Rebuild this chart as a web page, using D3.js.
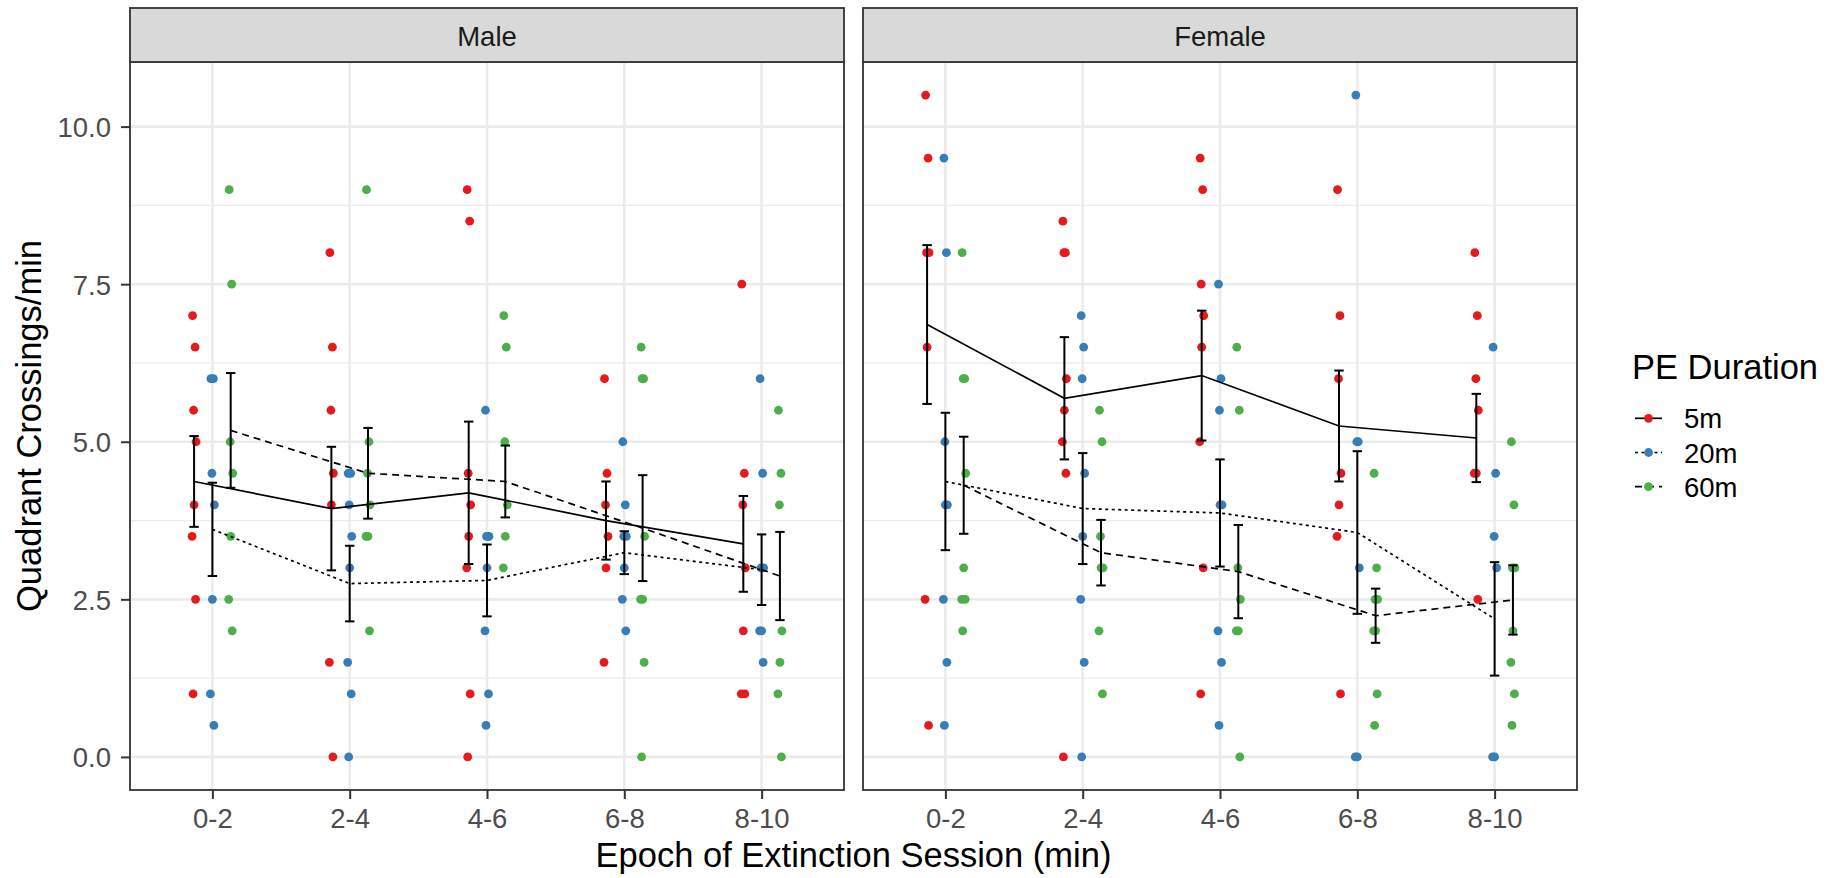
<!DOCTYPE html>
<html>
<head>
<meta charset="utf-8">
<script src="https://cdn.jsdelivr.net/npm/d3@7"></script>
<style>
  body { margin: 0; background: #fff; }
  text { font-family: 'Liberation Sans', Arial, Helvetica, sans-serif; }
</style>
</head>
<body>
<svg id="chart" width="1843" height="878"></svg>
<script>
var epochs = ['0-2', '2-4', '4-6', '6-8', '8-10'];
var sexes = ['Male', 'Female'];
var durations = ['5m', '20m', '60m'];
var yTicks = [0, 2.5, 5, 7.5, 10];
var yMinorTicks = [1.25, 3.75, 6.25, 8.75];

// individual animals, one list per epoch
var male5m = [
  [7, 6.5, 5.5, 5, 4, 3.5, 2.5, 1],
  [8, 6.5, 5.5, 4.5, 4, 1.5, 0],
  [9, 8.5, 4.5, 4, 3.5, 3, 1, 0],
  [6, 4.5, 4, 3.5, 3, 1.5],
  [7.5, 4.5, 4, 3, 2, 1, 1]
];
var male20m = [
  [6, 6, 4.5, 4, 2.5, 1, 0.5],
  [4.5, 4.5, 4, 3.5, 3, 1.5, 1, 0],
  [5.5, 3.5, 3.5, 3.5, 3, 2, 1, 0.5],
  [5, 4, 3.5, 3.5, 3, 2.5, 2],
  [6, 4.5, 3, 3, 2, 2, 1.5]
];
var male60m = [
  [9, 7.5, 5, 4.5, 3.5, 2.5, 2],
  [9, 5, 4.5, 4, 3.5, 3.5, 2],
  [7, 6.5, 5, 4, 3.5, 3],
  [6.5, 6, 6, 3.5, 2.5, 2.5, 1.5, 0],
  [5.5, 4.5, 4, 2, 1.5, 1, 0]
];
var female5m = [
  [10.5, 9.5, 8, 8, 6.5, 2.5, 0.5],
  [8.5, 8, 8, 6, 5.5, 5, 4.5, 0],
  [9.5, 9, 7.5, 7, 6.5, 5, 3, 1],
  [9, 7, 6, 4.5, 4, 3.5, 1],
  [8, 7, 6, 5.5, 4.5, 4.5, 2.5]
];
var female20m = [
  [9.5, 8, 5, 4, 4, 2.5, 1.5, 0.5],
  [7, 6.5, 6, 4.5, 3.5, 2.5, 1.5, 0],
  [7.5, 6, 5.5, 4, 4, 2, 1.5, 0.5],
  [10.5, 5, 5, 3, 0, 0],
  [6.5, 4.5, 3.5, 3, 0, 0]
];
var female60m = [
  [8, 6, 6, 4.5, 3, 2.5, 2.5, 2],
  [5.5, 5, 3.5, 3, 3, 2, 1],
  [6.5, 5.5, 3, 2.5, 2, 2, 0],
  [4.5, 3, 2.5, 2.5, 2, 2, 1, 0.5],
  [5, 4, 3, 3, 2, 1.5, 1, 0.5]
];

// group means and standard errors, per epoch
var maleMean5m = [4.37, 3.94, 4.19, 3.75, 3.38];
var maleSe5m = [0.72, 0.98, 1.13, 0.62, 0.76];
var maleMean20m = [3.61, 2.75, 2.80, 3.24, 2.97];
var maleSe20m = [0.74, 0.60, 0.57, 0.34, 0.56];
var maleMean60m = [5.18, 4.50, 4.37, 3.63, 2.87];
var maleSe60m = [0.91, 0.72, 0.57, 0.84, 0.70];
var femaleMean5m = [6.86, 5.69, 6.05, 5.25, 5.06];
var femaleSe5m = [1.26, 0.97, 1.03, 0.88, 0.70];
var femaleMean20m = [4.37, 3.94, 3.87, 3.56, 2.19];
var femaleSe20m = [1.09, 0.88, 0.85, 1.29, 0.90];
var femaleMean60m = [4.31, 3.24, 2.94, 2.24, 2.49];
var femaleSe60m = [0.77, 0.52, 0.74, 0.43, 0.55];

var colors = { '5m': '#E41A1C', '20m': '#377EB8', '60m': '#4DAF4A' };
var dashes = { '5m': null, '20m': '3,3.5', '60m': '7,5' };

var panels = [
  {
    sex: 'Male',
    left: 130,
    points: { '5m': male5m, '20m': male20m, '60m': male60m },
    means: { '5m': maleMean5m, '20m': maleMean20m, '60m': maleMean60m },
    se: { '5m': maleSe5m, '20m': maleSe20m, '60m': maleSe60m }
  },
  {
    sex: 'Female',
    left: 863,
    points: { '5m': female5m, '20m': female20m, '60m': female60m },
    means: { '5m': femaleMean5m, '20m': femaleMean20m, '60m': femaleMean60m },
    se: { '5m': femaleSe5m, '20m': femaleSe20m, '60m': femaleSe60m }
  }
];

const panelWidth = 714;
const panelTop = 62;
const panelBottom = 790;
const stripTop = 8;
const jitterPx = [-1.5, 1, -0.5, 2, 0, -2, 1.5, -1]; // small fixed spread, like position_jitter

var svg = d3.select('#chart');
var y = d3.scaleLinear().domain([-0.525, 11.025]).range([panelBottom, panelTop]);

panels.forEach(drawPanel);
drawAxisTitles();
drawLegend();

function drawPanel(panel, i) {
  var x = d3.scalePoint()
    .domain(epochs)
    .range([panel.left, panel.left + panelWidth])
    .padding(0.6);
  var dodge = d3.scalePoint()
    .domain(durations)
    .range([-x.step() * 0.1333, x.step() * 0.1333]);

  var g = svg.append('g').classed('panel', true);

  // grid
  g.selectAll('.minor').data(yMinorTicks).enter()
    .append('line')
    .attr('x1', panel.left).attr('x2', panel.left + panelWidth)
    .attr('y1', y).attr('y2', y)
    .attr('stroke', '#ebebeb').attr('stroke-width', 1.3);
  g.selectAll('.major-y').data(yTicks).enter()
    .append('line')
    .attr('x1', panel.left).attr('x2', panel.left + panelWidth)
    .attr('y1', y).attr('y2', y)
    .attr('stroke', '#ebebeb').attr('stroke-width', 2.6);
  g.selectAll('.major-x').data(epochs).enter()
    .append('line')
    .attr('x1', x).attr('x2', x)
    .attr('y1', panelTop).attr('y2', panelBottom)
    .attr('stroke', '#ebebeb').attr('stroke-width', 2.6);

  // points
  durations.forEach(function(dur) {
    var pts = [];
    panel.points[dur].forEach(function(vals, e) {
      vals.forEach(function(v, k) {
        pts.push({ epoch: epochs[e], value: v, k: k });
      });
    });
    g.append('g').selectAll('circle').data(pts).enter()
      .append('circle')
      .attr('cx', function(d) { return x(d.epoch) + dodge(dur) + jitterPx[d.k % jitterPx.length]; })
      .attr('cy', function(d) { return y(d.value); })
      .attr('r', 4.4)
      .attr('fill', colors[dur]);
  });

  // mean lines
  durations.forEach(function(dur) {
    var line = d3.line()
      .x(function(d, e) { return x(epochs[e]) + dodge(dur); })
      .y(function(d) { return y(d); });
    g.append('path')
      .attr('d', line(panel.means[dur]))
      .attr('fill', 'none')
      .attr('stroke', '#000')
      .attr('stroke-width', 1.7)
      .attr('stroke-dasharray', dashes[dur]);
  });

  // error bars
  durations.forEach(function(dur) {
    var bars = panel.means[dur].map(function(m, e) {
      return { cx: x(epochs[e]) + dodge(dur), lo: m - panel.se[dur][e], hi: m + panel.se[dur][e] };
    });
    var eb = g.append('g').selectAll('g').data(bars).enter().append('g')
      .attr('stroke', '#000').attr('stroke-width', 2);
    eb.append('line')
      .attr('x1', function(d) { return d.cx; }).attr('x2', function(d) { return d.cx; })
      .attr('y1', function(d) { return y(d.lo); }).attr('y2', function(d) { return y(d.hi); });
    eb.append('line')
      .attr('x1', function(d) { return d.cx - 4.7; }).attr('x2', function(d) { return d.cx + 4.7; })
      .attr('y1', function(d) { return y(d.lo); }).attr('y2', function(d) { return y(d.lo); });
    eb.append('line')
      .attr('x1', function(d) { return d.cx - 4.7; }).attr('x2', function(d) { return d.cx + 4.7; })
      .attr('y1', function(d) { return y(d.hi); }).attr('y2', function(d) { return y(d.hi); });
  });

  // border
  g.append('rect')
    .attr('x', panel.left).attr('y', panelTop)
    .attr('width', panelWidth).attr('height', panelBottom - panelTop)
    .attr('fill', 'none').attr('stroke', '#333').attr('stroke-width', 1.8);

  // strip
  g.append('rect')
    .attr('x', panel.left).attr('y', stripTop)
    .attr('width', panelWidth).attr('height', panelTop - stripTop)
    .attr('fill', '#d9d9d9').attr('stroke', '#333').attr('stroke-width', 1.8);
  g.append('text')
    .attr('x', panel.left + panelWidth / 2)
    .attr('y', 46)
    .attr('text-anchor', 'middle')
    .attr('font-size', 27.5)
    .attr('fill', '#1a1a1a')
    .text(panel.sex);

  // axes
  var xAxis = g.append('g')
    .attr('transform', 'translate(0,' + panelBottom + ')')
    .call(d3.axisBottom(x).tickSize(9).tickPadding(9));
  styleAxis(xAxis);

  if (i === 0) {
    var yAxis = g.append('g')
      .attr('transform', 'translate(' + panel.left + ',0)')
      .call(d3.axisLeft(y).tickValues(yTicks).tickFormat(d3.format('.1f')).tickSize(9).tickPadding(10));
    styleAxis(yAxis);
    yAxis.selectAll('text').attr('dy', '0.36em');
  }
}

function styleAxis(sel) {
  sel.select('.domain').remove();
  sel.selectAll('line').attr('stroke', '#333').attr('stroke-width', 2);
  sel.selectAll('text')
    .attr('fill', '#4d4d4d')
    .attr('font-size', 27.5)
    .attr('font-family', "'Liberation Sans', Arial, Helvetica, sans-serif");
}

function drawAxisTitles() {
  svg.append('text')
    .attr('x', 853.5)
    .attr('y', 867)
    .attr('text-anchor', 'middle')
    .attr('font-size', 34.5)
    .attr('fill', '#000')
    .text('Epoch of Extinction Session (min)');
  svg.append('text')
    .attr('transform', 'translate(41,426) rotate(-90)')
    .attr('text-anchor', 'middle')
    .attr('font-size', 34.5)
    .attr('fill', '#000')
    .text('Quadrant Crossings/min');
}

function drawLegend() {
  var lg = svg.append('g').attr('transform', 'translate(1632,0)');
  lg.append('text')
    .attr('x', 0).attr('y', 379)
    .attr('font-size', 34.5)
    .attr('fill', '#000')
    .text('PE Duration');
  var rowY = d3.scalePoint().domain(durations).range([418.3, 486.7]);
  var key = lg.selectAll('.key').data(durations).enter().append('g')
    .classed('key', true)
    .attr('transform', function(d) { return 'translate(0,' + rowY(d) + ')'; });
  key.append('line')
    .attr('x1', 3).attr('x2', 30)
    .attr('stroke', '#000').attr('stroke-width', 1.7)
    .attr('stroke-dasharray', function(d) { return dashes[d]; });
  key.append('circle')
    .attr('cx', 16.5).attr('r', 4.4)
    .attr('fill', function(d) { return colors[d]; });
  key.append('text')
    .attr('x', 52).attr('y', 10)
    .attr('font-size', 27.5)
    .attr('fill', '#000')
    .text(function(d) { return d; });
}
</script>
</body>
</html>
